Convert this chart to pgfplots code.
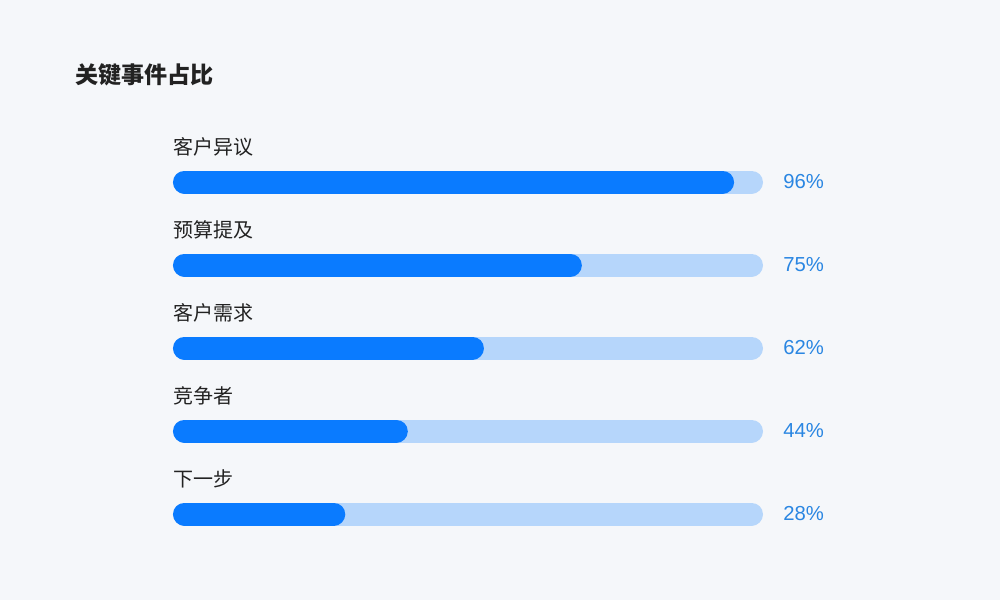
\documentclass[border=0pt]{standalone}
\usepackage{fontspec}
\setmainfont{Liberation Sans}
\newfontfamily\cjk{Noto Sans CJK SC}
\usepackage{pgfplots}
\pgfplotsset{compat=1.18}
\definecolor{bgc}{HTML}{F5F7FA}
\definecolor{barfill}{HTML}{0A7BFF}
\definecolor{bartrack}{HTML}{B6D6FB}
\definecolor{pcttext}{HTML}{2A86E2}
\definecolor{labtext}{HTML}{222222}

% one bar = a thick round-capped line, shortened by its cap radius
\pgfplotsset{
  bar line/.style={no marks, line width=17.25pt, line cap=round,
    shorten <=8.625pt, shorten >=8.625pt},
}
\tikzset{
  cat/.style={anchor=west, inner sep=0pt, text=labtext, font=\cjk\fontsize{15pt}{18pt}\selectfont},
  pct/.style={anchor=west, inner sep=0pt, text=pcttext, font=\fontsize{15.2pt}{18pt}\selectfont},
}

\begin{document}
\begin{tikzpicture}
\begin{axis}[
    width=750pt, height=450pt, scale only axis,
    xmin=-29.32, xmax=140.17,
    ymin=-2.193, ymax=5.036, y dir=reverse,
    hide axis, clip=false,
]
\fill[bgc] (rel axis cs:0,0) rectangle (rel axis cs:1,1);

% tracks (full length)
\addplot[bar line, bartrack] coordinates {(0,0) (100,0)};
\addplot[bar line, bartrack] coordinates {(0,1) (100,1)};
\addplot[bar line, bartrack] coordinates {(0,2) (100,2)};
\addplot[bar line, bartrack] coordinates {(0,3) (100,3)};
\addplot[bar line, bartrack] coordinates {(0,4) (100,4)};

% filled part, as drawn
\addplot[bar line, barfill] coordinates {(0,0) (95.1,0)};
\addplot[bar line, barfill] coordinates {(0,1) (69.3,1)};
\addplot[bar line, barfill] coordinates {(0,2) (52.7,2)};
\addplot[bar line, barfill] coordinates {(0,3) (39.8,3)};
\addplot[bar line, barfill] coordinates {(0,4) (29.2,4)};

% title
\node[anchor=west, inner sep=0pt, text=labtext, font=\cjk\bfseries\fontsize{17.3pt}{20pt}\selectfont]
  at (axis cs:-16.61,-1.289) {关键事件占比};

% category names
\node[cat] at (axis cs:0,-0.42) {客户异议};
\node[cat] at (axis cs:0,0.58) {预算提及};
\node[cat] at (axis cs:0,1.58) {客户需求};
\node[cat] at (axis cs:0,2.58) {竞争者};
\node[cat] at (axis cs:0,3.58) {下一步};

% percent labels
\node[pct] at (axis cs:103.4,0) {96\%};
\node[pct] at (axis cs:103.4,1) {75\%};
\node[pct] at (axis cs:103.4,2) {62\%};
\node[pct] at (axis cs:103.4,3) {44\%};
\node[pct] at (axis cs:103.4,4) {28\%};
\end{axis}
\end{tikzpicture}
\end{document}
